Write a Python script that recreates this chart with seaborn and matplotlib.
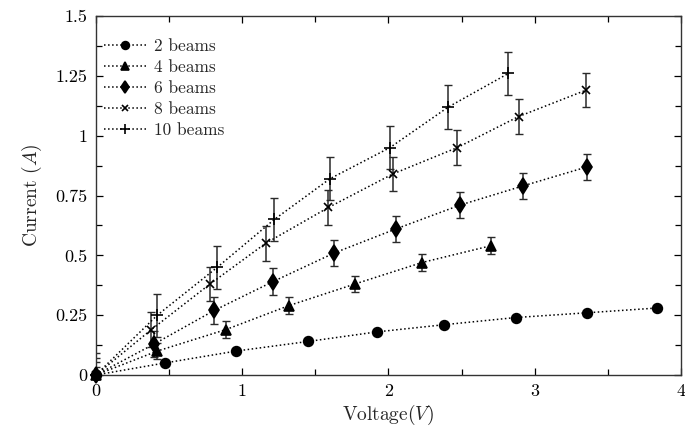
import numpy as np
import pandas as pd
import matplotlib
matplotlib.use("Agg")
import matplotlib.pyplot as plt
import seaborn as sns
from matplotlib.ticker import MultipleLocator, FixedLocator, FixedFormatter

# ---- data ----
x2 = [0, 0.47, 0.96, 1.45, 1.92, 2.38, 2.87, 3.36, 3.84]
y2 = [0, 0.05, 0.10, 0.14, 0.18, 0.21, 0.24, 0.26, 0.28]
e2 = 0.0

x4 = [0, 0.42, 0.89, 1.32, 1.77, 2.23, 2.70]
y4 = [0, 0.10, 0.19, 0.29, 0.38, 0.47, 0.54]
e4 = 0.035

x6 = [0, 0.40, 0.81, 1.21, 1.63, 2.05, 2.49, 2.92, 3.36]
y6 = [0, 0.13, 0.27, 0.39, 0.51, 0.61, 0.71, 0.79, 0.87]
e6 = 0.055

x8 = [0, 0.38, 0.78, 1.16, 1.59, 2.03, 2.47, 2.89, 3.35]
y8 = [0, 0.19, 0.38, 0.55, 0.70, 0.84, 0.95, 1.08, 1.19]
e8 = 0.072

x10 = [0, 0.42, 0.83, 1.22, 1.60, 2.01, 2.41, 2.82]
y10 = [0, 0.25, 0.45, 0.65, 0.82, 0.95, 1.12, 1.26]
e10 = 0.09

labels = ["2 beams", "4 beams", "6 beams", "8 beams", "10 beams"]
xticks = [0, 1, 2, 3, 4]
xticklabels = ["0", "1", "2", "3", "4"]
yticks = [0, 0.25, 0.5, 0.75, 1, 1.25, 1.5]
yticklabels = ["0", "0.25", "0.5", "0.75", "1", "1.25", "1.5"]

series = [(x2, y2, e2, "o", 7), (x4, y4, e4, "^", 7.5), (x6, y6, e6, "d", 8),
          (x8, y8, e8, "x", 5.5), (x10, y10, e10, "+", 9)]

sns.set_theme(style="ticks")
plt.rcParams["font.family"] = ["serif"]
plt.rcParams["font.serif"] = ["cmr10", "DejaVu Serif"]
plt.rcParams["mathtext.fontset"] = "cm"
plt.rcParams["axes.unicode_minus"] = False
plt.rcParams["axes.formatter.use_mathtext"] = True

fig = plt.figure(figsize=(6.85, 4.34), dpi=100)
ax = fig.add_axes([0.140, 0.136, 0.854, 0.827])

for (xs, ys, err, mk, ms), lab in zip(series, labels):
    df = pd.DataFrame({"x": xs, "y": ys})
    if err > 0:
        ax.errorbar(xs, ys, yerr=err, fmt="none", ecolor="#2a2a2a",
                    elinewidth=1.1, capsize=3, capthick=1.0, zorder=2)
    sns.lineplot(data=df, x="x", y="y", ax=ax, color="black", linestyle=":",
                 linewidth=1.1, marker=mk, markersize=ms, markeredgecolor="black",
                 markerfacecolor="black", markeredgewidth=1.2, label=lab,
                 sort=False, zorder=3, clip_on=False)

ax.set_xlim(0, 4)
ax.set_ylim(0, 1.5)
ax.xaxis.set_major_locator(FixedLocator(xticks))
ax.xaxis.set_major_formatter(FixedFormatter(xticklabels))
ax.yaxis.set_major_locator(FixedLocator(yticks))
ax.yaxis.set_major_formatter(FixedFormatter(yticklabels))
ax.xaxis.set_minor_locator(MultipleLocator(0.5))
ax.yaxis.set_minor_locator(MultipleLocator(0.125))
ax.tick_params(which="both", direction="in", top=True, right=True,
               labelsize=13, colors="black", width=0.9)
ax.tick_params(which="major", length=5, pad=6)
ax.tick_params(which="minor", length=4)
for s in ax.spines.values():
    s.set_color("#333333")
    s.set_linewidth(1.0)

ax.set_xlabel("Voltage$(V)$", fontsize=14, labelpad=3)
ax.set_ylabel("Current $(A)$", fontsize=14, labelpad=8)

leg = ax.legend(loc="upper left", frameon=False, fontsize=12.5, handlelength=2.4,
                handletextpad=0.5, labelspacing=0.32, borderaxespad=0.4,
                markerscale=0.8, bbox_to_anchor=(-0.01, 0.975))

fig.savefig("out.png", dpi=100)
